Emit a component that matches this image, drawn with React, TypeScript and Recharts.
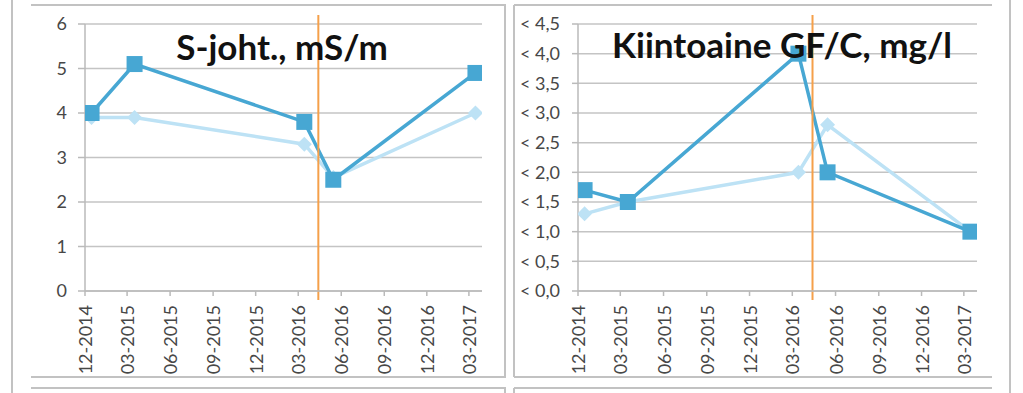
import React from 'react';
import { LineChart, Line, XAxis, YAxis, CartesianGrid, ReferenceLine } from 'recharts';

// ---- data ----
const sampleDates = ['2014-12-15', '2015-03-17', '2016-03-14', '2016-05-15', '2017-03-15'];
const tickDates = [
  '2014-12-01', '2015-03-01', '2015-06-01', '2015-09-01', '2015-12-01',
  '2016-03-01', '2016-06-01', '2016-09-01', '2016-12-01', '2017-03-01',
];
const markerDate = '2016-04-13';
const domainEndDate = '2017-03-29';

const conductivityMain = [4.0, 5.1, 3.8, 2.5, 4.9];
const conductivityRef = [3.9, 3.9, 3.3, 2.55, 4.0];
const solidsMain = [1.7, 1.5, 4.0, 2.0, 1.0];
const solidsRef = [1.3, 1.5, 2.0, 2.8, 1.0];

const conductivityTicks = [0, 1, 2, 3, 4, 5, 6];
const solidsTicks = [0, 0.5, 1, 1.5, 2, 2.5, 3, 3.5, 4, 4.5];

const titles = ['S-joht., mS/m', 'Kiintoaine GF/C, mg/l'];

// ---- helpers ----
const toT = (s: string) => {
  const [y, m, d] = s.split('-').map(Number);
  return Date.UTC(y, m - 1, d);
};
const sampleT = sampleDates.map(toT);
const tickT = tickDates.map(toT);
const markerT = toT(markerDate);
const xDomain = [tickT[0], toT(domainEndDate)];

const fmtDate = (t: number) => {
  const d = new Date(t);
  const mm = String(d.getUTCMonth() + 1).padStart(2, '0');
  return `${mm}-${d.getUTCFullYear()}`;
};

const conductivityData = sampleT.map((t, i) => ({ t, main: conductivityMain[i], ref: conductivityRef[i] }));
const solidsData = sampleT.map((t, i) => ({ t, main: solidsMain[i], ref: solidsRef[i] }));

const DARK = '#47a7d3';
const LIGHT = '#bde2f5';
const GRID = '#c4c4c4';
const AXIS = '#bababa';
const LABEL = '#474747';
const FONT = 'Lato, "Open Sans", sans-serif';

const SquareDot = (props: any) => {
  const { cx, cy } = props;
  if (cx == null || cy == null) return null;
  const s = 16;
  return <rect x={cx - s / 2} y={cy - s / 2} width={s} height={s} fill={DARK} />;
};
const DiamondDot = (props: any) => {
  const { cx, cy } = props;
  if (cx == null || cy == null) return null;
  const r = 7.5;
  return <polygon points={`${cx},${cy - r} ${cx + r},${cy} ${cx},${cy + r} ${cx - r},${cy}`} fill={LIGHT} />;
};

const DateTick = (props: any) => {
  const { x, y, payload } = props;
  return (
    <text
      x={x}
      y={y}
      transform={`rotate(-90, ${x}, ${y})`}
      textAnchor="end"
      dominantBaseline="central"
      fill={LABEL}
      fontSize={18}
      fontFamily={FONT}
    >
      {fmtDate(payload.value)}
    </text>
  );
};

type PanelProps = {
  data: any[];
  left: number;
  width: number;
  yWidth: number;
  marginRight: number;
  yTicks: number[];
  yMax: number;
  yFmt: (v: number) => string;
  markerTop: number;
  markerBottom: number;
  ySize: number;
  yMargin: number;
};

const Panel = (p: PanelProps) => (
  <div style={{ position: 'absolute', left: p.left, top: 0 }}>
    <LineChart
      width={p.width}
      height={393}
      data={p.data}
      margin={{ top: 24, right: p.marginRight, bottom: 0, left: 0 }}
    >
      <CartesianGrid vertical={false} stroke={GRID} strokeWidth={1.5} />
      <XAxis
        dataKey="t"
        type="number"
        domain={xDomain}
        ticks={tickT}
        height={102}
        axisLine={{ stroke: AXIS, strokeWidth: 1.5 }}
        tickLine={{ stroke: AXIS, strokeWidth: 1.5 }}
        tickSize={5}
        tickMargin={9}
        tick={<DateTick />}
        interval={0}
        allowDataOverflow
      />
      <YAxis
        type="number"
        domain={[0, p.yMax]}
        ticks={p.yTicks}
        width={p.yWidth}
        axisLine={{ stroke: AXIS, strokeWidth: 1.5 }}
        tickLine={{ stroke: AXIS, strokeWidth: 1.5 }}
        tickSize={p.ySize}
        tickMargin={p.yMargin}
        tickFormatter={p.yFmt}
        tick={{ fill: LABEL, fontSize: 18, fontFamily: FONT }}
        interval={0}
      />
      <Line
        type="linear"
        dataKey="ref"
        stroke={LIGHT}
        strokeWidth={3.5}
        dot={<DiamondDot />}
        activeDot={false}
        isAnimationActive={false}
      />
      <Line
        type="linear"
        dataKey="main"
        stroke={DARK}
        strokeWidth={3.5}
        dot={<SquareDot />}
        activeDot={false}
        isAnimationActive={false}
      />
      <ReferenceLine
        segment={[
          { x: markerT, y: p.markerTop },
          { x: markerT, y: p.markerBottom },
        ]}
        stroke="#f5a04a"
        strokeWidth={2}
        ifOverflow="visible"
      />
    </LineChart>
  </div>
);

const FRAME = '#c2c2c2';

export default function App() {
  return (
    <div
      style={{
        position: 'fixed',
        left: 0,
        top: 0,
        width: 1023,
        height: 393,
        background: '#ffffff',
        overflow: 'hidden',
      }}
    >
      <Panel
        data={conductivityData}
        left={0}
        width={510}
        yWidth={85}
        marginRight={28}
        yTicks={conductivityTicks}
        yMax={6}
        yFmt={(v) => String(v)}
        markerTop={6.2}
        markerBottom={-0.2}
        ySize={7}
        yMargin={11}
      />
      <Panel
        data={solidsData}
        left={500}
        width={500}
        yWidth={78}
        marginRight={23}
        yTicks={solidsTicks}
        yMax={4.5}
        yFmt={(v) => `< ${v.toFixed(1).replace('.', ',')}`}
        markerTop={4.65}
        markerBottom={-0.15}
        ySize={6}
        yMargin={12}
      />
      <svg
        width={1023}
        height={393}
        style={{ position: 'absolute', left: 0, top: 0, pointerEvents: 'none' }}
      >
        {/* outer frame lines */}
        <line x1={12} y1={0} x2={12} y2={393} stroke={FRAME} strokeWidth={2} />
        <line x1={1010} y1={0} x2={1010} y2={393} stroke={FRAME} strokeWidth={2} />
        {/* left panel */}
        <line x1={31} y1={5} x2={506} y2={5} stroke={FRAME} strokeWidth={2} />
        <line x1={505} y1={5} x2={505} y2={377} stroke={FRAME} strokeWidth={2} />
        <line x1={31} y1={377} x2={506} y2={377} stroke={FRAME} strokeWidth={2} />
        <line x1={31} y1={388} x2={506} y2={388} stroke={FRAME} strokeWidth={2} />
        <line x1={505} y1={388} x2={505} y2={393} stroke={FRAME} strokeWidth={2} />
        {/* right panel */}
        <line x1={514} y1={5} x2={992} y2={5} stroke={FRAME} strokeWidth={2} />
        <line x1={514} y1={5} x2={514} y2={377} stroke={FRAME} strokeWidth={2} />
        <line x1={514} y1={377} x2={992} y2={377} stroke={FRAME} strokeWidth={2} />
        <line x1={514} y1={388} x2={992} y2={388} stroke={FRAME} strokeWidth={2} />
        <line x1={514} y1={388} x2={514} y2={393} stroke={FRAME} strokeWidth={2} />
        {/* titles */}
        <text x={282} y={60} textAnchor="middle" fontSize={35} fontWeight={700} fontFamily={FONT} fill="#111">
          {titles[0]}
        </text>
        <text x={782} y={58} textAnchor="middle" fontSize={35} fontWeight={700} fontFamily={FONT} fill="#111">
          {titles[1]}
        </text>
      </svg>
    </div>
  );
}
